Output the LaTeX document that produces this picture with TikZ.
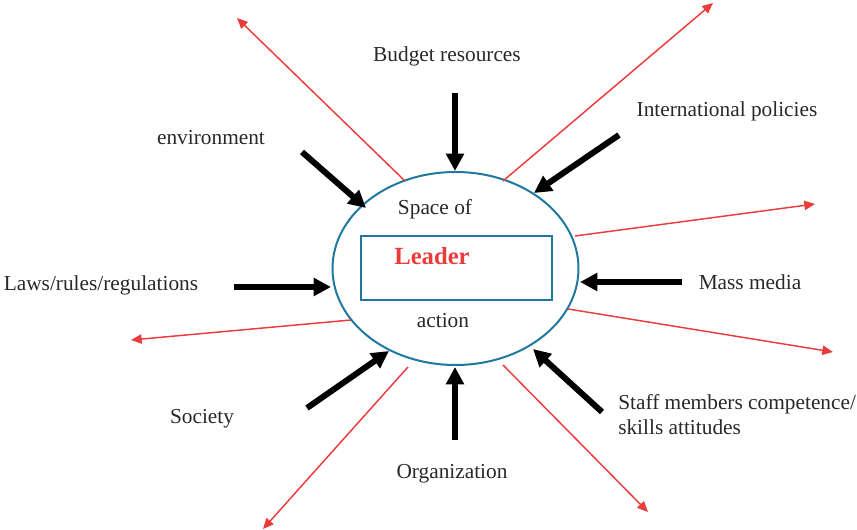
\documentclass[tikz,border=0pt]{standalone}
\usepackage{fontspec}
\setmainfont{Liberation Serif}
\usetikzlibrary{arrows.meta,shapes.geometric}
\definecolor{spBlue}{RGB}{30,120,160}
\definecolor{spRed}{RGB}{235,60,60}
\definecolor{spText}{RGB}{40,40,40}
\tikzset{
  lbl/.style={font=\fontsize{16}{18.75}\selectfont, text=spText, inner sep=0pt},
  inar/.style={-{Triangle[length=13pt,width=13pt]}, draw=black, line width=4.5pt},
  outar/.style={-{Triangle[length=8pt,width=7pt]}, draw=spRed, line width=1.1pt},
}

\begin{document}
\begin{tikzpicture}[x=0.75pt,y=-0.75pt]
\useasboundingbox (0,0) rectangle (857,530);

% space of action
\node[draw=spBlue, line width=1.5pt, ellipse, minimum width=184.5pt, minimum height=144.75pt, inner sep=0pt] (sp) at (455.5,268.5) {};
\node[draw=spBlue, line width=1.3pt, minimum width=143pt, minimum height=48pt, inner sep=0pt] (ld) at (456.5,268) {};
\node[font=\fontsize{18.5}{22}\selectfont\bfseries, text=spRed, inner sep=0pt] (ldtxt) at (432,256) {Leader};
\node[lbl] (spof) at (435,209) {Space of};
\node[lbl] (act) at (443,321) {action};

% labels
\node[lbl] (bud) at (447,56) {Budget resources};
\node[lbl] (intl) at (727,111) {International policies};
\node[lbl] (env) at (211,138) {environment};
\node[lbl] (laws) at (101,285) {Laws/rules/regulations};
\node[lbl] (mass) at (750,282) {Mass media};
\node[lbl] (soc) at (202,419) {Society};
\node[lbl] (org) at (452,474) {Organization};
\node[lbl, align=left, anchor=west] (staff) at (618,415) {Staff members competence/\\skills attitudes};

% black arrows in
\coordinate (budS) at (455,93);   \coordinate (budE) at (455,171);
\coordinate (envS) at (302,152);  \coordinate (envE) at (366,208);
\coordinate (intS) at (619,135);  \coordinate (intE) at (534,193);
\coordinate (lawS) at (234,287);  \coordinate (lawE) at (331,287);
\coordinate (masS) at (682,282);  \coordinate (masE) at (580,282);
\coordinate (socS) at (307,408);  \coordinate (socE) at (389,351);
\coordinate (orgS) at (455,440);  \coordinate (orgE) at (455,367);
\coordinate (stfS) at (602,412);  \coordinate (stfE) at (533,349);
\foreach \a in {bud,env,int,law,mas,soc,org,stf}
  \draw[inar] (\a S) -- (\a E);

% red arrows out
\coordinate (r1S) at (405,181); \coordinate (r1E) at (237,18);
\coordinate (r2S) at (503,181); \coordinate (r2E) at (713,3);
\coordinate (r3S) at (575,236); \coordinate (r3E) at (815,204);
\coordinate (r4S) at (568,309); \coordinate (r4E) at (833,352);
\coordinate (r5S) at (503,365); \coordinate (r5E) at (648,512);
\coordinate (r6S) at (408,367); \coordinate (r6E) at (263,529);
\coordinate (r7S) at (351,320); \coordinate (r7E) at (131,340);
\foreach \r in {r1,r2,r3,r4,r5,r6,r7}
  \draw[outar] (\r S) -- (\r E);
\end{tikzpicture}
\end{document}
